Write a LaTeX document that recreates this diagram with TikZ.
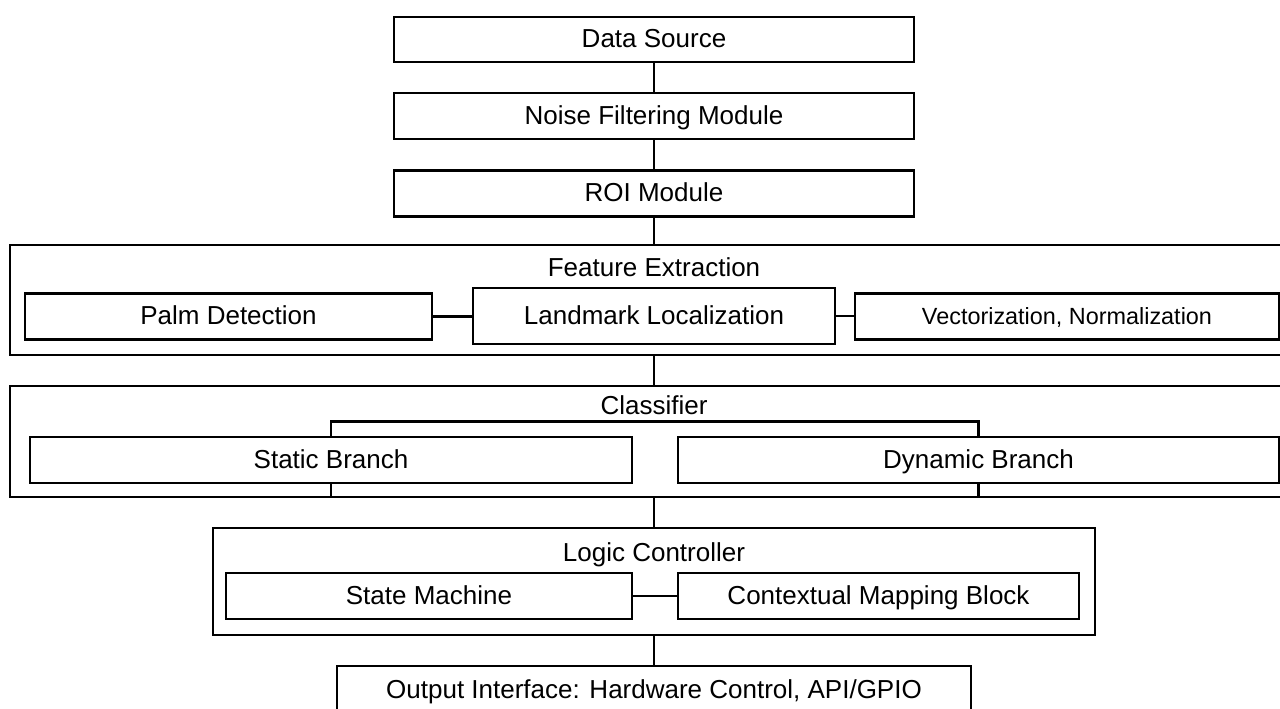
\documentclass[tikz,border=0pt]{standalone}
\usepackage{fontspec}
\setmainfont{Liberation Sans}
\usetikzlibrary{positioning,calc}

\tikzset{
	blk/.style={draw, line width=1.3pt, inner sep=0pt, minimum height=23pt, text height=10.2pt, text depth=1.8pt, font=\fontsize{13}{15}\selectfont},
	ttl/.style={inner sep=0pt, text height=10.2pt, text depth=1.8pt, font=\fontsize{13}{15}\selectfont},
	lnk/.style={line width=1.3pt}
}

\begin{document}
\begin{tikzpicture}[x=0.5pt,y=-0.5pt]
	\fill[white] (0,0) rectangle (1280,708);
	\useasboundingbox (0,0) rectangle (1280,708);
	\node[blk, minimum width=260pt, minimum height=22.5pt] (src) at (654,39.5) {Data Source};
	\node[blk, minimum width=260pt] (noise) at (654,116) {Noise Filtering Module};
	\node[blk, minimum width=260pt] (roi) at (654,193.5) {ROI Module};
	\node[blk, minimum width=644pt, minimum height=55pt] (feat) at (654,300) {};
	\node[ttl] (feattl) at (654,268) {Feature Extraction};
	\node[blk, minimum width=203.5pt] (palm) at (228.5,316.5) {Palm Detection};
	\node[blk, minimum width=181pt, minimum height=28pt] (land) at (654,316) {Landmark Localization};
	\node[blk, minimum width=212pt, font=\fontsize{11.7}{14}\selectfont] (vect) at (1067,316.5) {Vectorization, Normalization};
	\node[blk, minimum width=644pt, minimum height=55.5pt] (clf) at (654,441.5) {};
	\node[ttl] (clftl) at (654,406) {Classifier};
	\node[blk, minimum width=301pt] (static) at (331,460) {Static Branch};
	\node[blk, minimum width=300.5pt] (dyn) at (978.5,460) {Dynamic Branch};
	\node[blk, minimum width=441pt, minimum height=53.5pt] (logic) at (654,581.5) {};
	\node[ttl] (logictl) at (654,553) {Logic Controller};
	\node[blk, minimum width=203pt] (state) at (429,596) {State Machine};
	\node[blk, minimum width=200.5pt] (ctx) at (878.5,596) {Contextual Mapping Block};
	\node[blk, minimum width=317pt, minimum height=24pt] (out) at (654,690) {Output Interface: Hardware Control, API/GPIO};
	\draw[lnk] (src) -- (noise);
	\draw[lnk] (noise) -- (roi);
	\draw[lnk] (roi) -- (feat);
	\draw[lnk] (palm.east) -- (palm.east -| land.west);
	\draw[lnk] (land.east) -- (land.east -| vect.west);
	\draw[lnk] (feat) -- (clf);
	\draw[lnk] (static.north) -- ++(0,-14) -| (dyn.north);
	\draw[lnk] (static.south) -- (static.south |- clf.south);
	\draw[lnk] (dyn.south) -- (dyn.south |- clf.south);
	\draw[lnk] (clf) -- (logic);
	\draw[lnk] (state.east) -- (state.east -| ctx.west);
	\draw[lnk] (logic) -- (out);
\end{tikzpicture}
\end{document}
